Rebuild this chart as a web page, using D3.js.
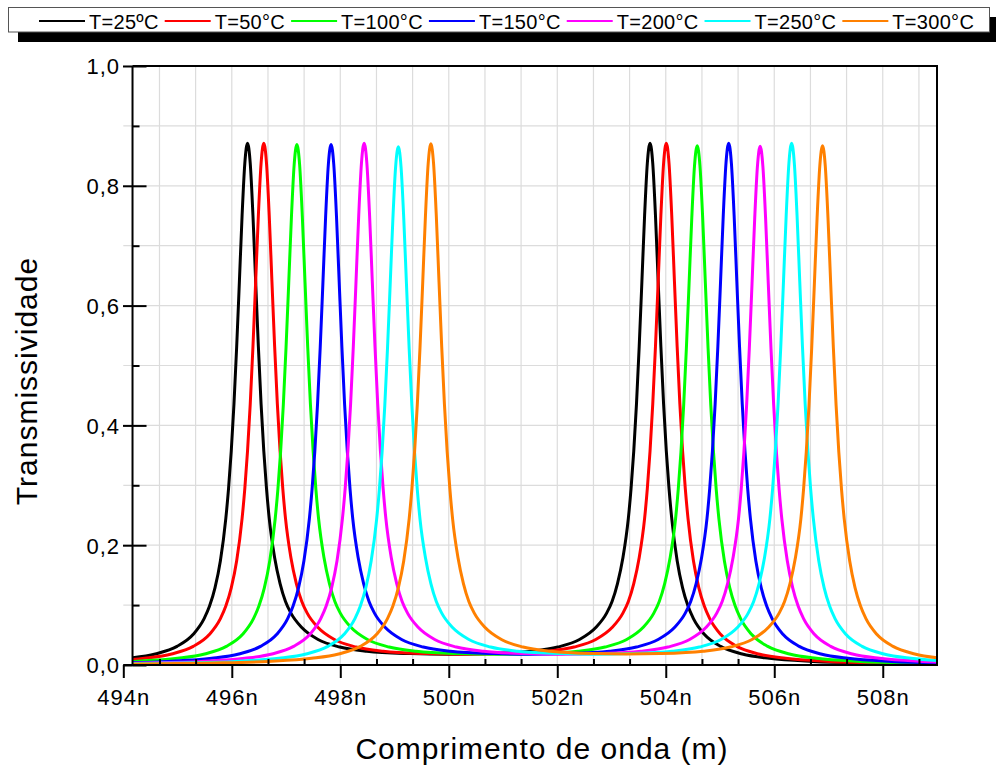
<!DOCTYPE html>
<html><head><meta charset="utf-8">
<script src="https://cdn.jsdelivr.net/npm/d3@7"></script>
<style>
body{margin:0;background:#fff}
svg{display:block}
text{font-family:Arial,"Liberation Sans",sans-serif;fill:#000}
</style>
</head><body><svg id="c" width="996" height="774"></svg>
<script>
// ---------- data ----------
const seriesNames  = ["T=25ºC","T=50°C","T=100°C","T=150°C","T=200°C","T=250°C","T=300°C"];
const seriesColors = ["#000000","#ff0000","#00ff00","#0000ff","#ff00ff","#00ffff","#ff8000"];
// peak wavelengths (nm) of the two transmission orders
const peakLeft    = [496.29,496.59,497.20,497.83,498.44,499.07,499.67];
const peakRight   = [503.71,504.01,504.58,505.16,505.74,506.32,506.89];
const heightLeft  = [0.871,0.871,0.869,0.869,0.871,0.865,0.870];
const heightRight = [0.871,0.871,0.867,0.871,0.866,0.871,0.867];
// peak core shape read from the black peak (relative to peak height)
const coreOffsets = [0,0.05,0.1,0.15,0.2,0.25,0.3,0.35,0.4];
const coreShape   = [1,0.9615,0.862,0.735,0.610,0.50,0.41,0.338,0.281];
// tail facing the other order (between the two peaks), transmissivity
const innerOffsets = [0.5,0.6,0.7,0.8,1.0,1.3,1.7,2.2,3.0];
const innerValues  = [0.179,0.136,0.106,0.0866,0.0625,0.0426,0.030,0.023,0.019];
// tail facing the plot edges, transmissivity
const outerOffsets = [0.5,0.6,0.7,0.8,1.0,1.3,1.7,2.2,3.0,4.0,5.0,6.0];
const outerValues  = [0.174,0.1288,0.0983,0.0774,0.0512,0.0311,0.0184,0.0111,0.0060,0.0034,0.0022,0.0015];
// value half way between the two orders
const midValues = [0.0178,0.0178,0.0179,0.0180,0.0180,0.0181,0.0182];

const xMajorTicks = [494,496,498,500,502,504,506,508];
const xMinorTicks = [494.667,495.333,496.667,497.333,498.667,499.333,500.667,501.333,502.667,503.333,504.667,505.333,506.667,507.333,508.667];
const yMajorTicks = [0,0.2,0.4,0.6,0.8,1.0];
const yMinorTicks = [0.1,0.3,0.5,0.7,0.9];
const xDomain = [494,509];
const dataStart = 494.17;
const xTitle = "Comprimento de onda (m)";
const yTitle = "Transmissividade";

// ---------- build series ----------
const series = seriesNames.map((name,i)=>{
  const pts = [];
  const pL = peakLeft[i], pR = peakRight[i];
  outerOffsets.forEach((o,k)=>pts.push([pL-o, outerValues[k]]));
  coreOffsets.forEach((o,k)=>{ pts.push([pL-o, heightLeft[i]*coreShape[k]]); if(o>0) pts.push([pL+o, heightLeft[i]*coreShape[k]]); });
  innerOffsets.forEach((o,k)=>pts.push([pL+o, innerValues[k]]));
  pts.push([(pL+pR)/2, midValues[i]]);
  innerOffsets.forEach((o,k)=>pts.push([pR-o, innerValues[k]]));
  coreOffsets.forEach((o,k)=>{ pts.push([pR-o, heightRight[i]*coreShape[k]]); if(o>0) pts.push([pR+o, heightRight[i]*coreShape[k]]); });
  outerOffsets.forEach((o,k)=>pts.push([pR+o, outerValues[k]]));
  pts.sort((a,b)=>a[0]-b[0]);
  return {name, color:seriesColors[i], pts};
});

// ---------- drawing ----------
const svg = d3.select("#c");
svg.append("rect").attr("width",996).attr("height",774).attr("fill","#fff");

const x = d3.scaleLinear().domain(xDomain).range([123.3,937]);
const y = d3.scaleLinear().domain([0,1]).range([665,66]);
const x0 = x(dataStart);

// grid
const grid = svg.append("g").attr("stroke","#dcdcdc").attr("stroke-width",1.2);
xMajorTicks.concat(xMinorTicks).filter(v=>v>494).forEach(v=>{
  grid.append("line").attr("x1",x(v)).attr("x2",x(v)).attr("y1",y(1)).attr("y2",y(0));
});
yMajorTicks.concat(yMinorTicks).filter(v=>v>0).forEach(v=>{
  grid.append("line").attr("x1",x(494)).attr("x2",x(509)).attr("y1",y(v)).attr("y2",y(v));
});

// curves
svg.append("clipPath").attr("id","plotclip").append("rect")
  .attr("x",x0).attr("y",y(1)).attr("width",x(509)-x0).attr("height",y(0)-y(1));
const line = d3.line().x(d=>x(d[0])).y(d=>y(d[1])).curve(d3.curveMonotoneX);
const gC = svg.append("g").attr("clip-path","url(#plotclip)");
series.forEach(s=>{
  gC.append("path").attr("d",line(s.pts)).attr("fill","none")
    .attr("stroke",s.color).attr("stroke-width",3).attr("stroke-linejoin","round");
});

// x axis
const fmtX = d=>d+"n";
const gx = svg.append("g").attr("transform",`translate(0,${y(0)})`)
  .call(d3.axisBottom(x).tickValues(xMajorTicks).tickSize(13).tickSizeOuter(0).tickFormat(fmtX));
gx.select(".domain").remove();
gx.selectAll(".tick line").attr("stroke","#000").attr("stroke-width",2);
gx.selectAll("text").attr("y",40).attr("dy",0).style("font-size","22px").style("letter-spacing","1px");
const gxm = svg.append("g").attr("transform",`translate(0,${y(0)})`)
  .call(d3.axisTop(x).tickValues(xMinorTicks).tickSize(6).tickSizeOuter(0).tickFormat(""));
gxm.select(".domain").remove();
gxm.selectAll(".tick line").attr("stroke","#000").attr("stroke-width",2);

// y axis
const fmtY = d=>d3.format(".1f")(d).replace(".",",");
const gy = svg.append("g").attr("transform",`translate(${x0},0)`)
  .call(d3.axisLeft(y).tickValues(yMajorTicks).tickSize(9.5).tickSizeOuter(0).tickPadding(3).tickFormat(fmtY));
gy.select(".domain").remove();
gy.selectAll(".tick line").attr("stroke","#000").attr("stroke-width",2);
gy.selectAll("text").style("font-size","22px").style("letter-spacing","1px").attr("dy","0.36em");
const gyi = svg.append("g").attr("transform",`translate(${x0},0)`)
  .call(d3.axisRight(y).tickValues(yMajorTicks).tickSize(14).tickSizeOuter(0).tickFormat(""));
gyi.select(".domain").remove();
gyi.selectAll(".tick line").attr("stroke","#000").attr("stroke-width",2);
const gym = svg.append("g").attr("transform",`translate(${x0},0)`)
  .call(d3.axisRight(y).tickValues(yMinorTicks).tickSize(7).tickSizeOuter(0).tickFormat(""));
gym.select(".domain").remove();
gym.selectAll(".tick line").attr("stroke","#000").attr("stroke-width",2);

// frame
const frame = svg.append("g").attr("stroke","#000").attr("stroke-width",2).attr("fill","none");
frame.append("line").attr("x1",x(494)).attr("x2",x(509)+1).attr("y1",y(0)).attr("y2",y(0));
frame.append("line").attr("x1",x0).attr("x2",x(509)+1).attr("y1",y(1)).attr("y2",y(1));
frame.append("line").attr("x1",x0).attr("x2",x0).attr("y1",y(1)).attr("y2",y(0));
frame.append("line").attr("x1",x(509)).attr("x2",x(509)).attr("y1",y(1)).attr("y2",y(0));

// titles
svg.append("text").attr("x",542).attr("y",759).attr("text-anchor","middle")
  .style("font-size","30px").style("letter-spacing","1px").text(xTitle);
svg.append("text").attr("transform","translate(37,381) rotate(-90)").attr("text-anchor","middle")
  .style("font-size","30px").style("letter-spacing","1px").text(yTitle);

// legend
const lg = svg.append("g");
lg.append("rect").attr("x",18).attr("y",17).attr("width",982).attr("height",25).attr("fill","#000");
lg.append("rect").attr("x",8.5).attr("y",7.5).attr("width",981).attr("height",24.5).attr("fill","#fff").attr("stroke","#555").attr("stroke-width",1);
let lx = 39;
series.forEach(s=>{
  lg.append("line").attr("x1",lx).attr("x2",lx+46).attr("y1",21).attr("y2",21).attr("stroke",s.color).attr("stroke-width",2);
  const t = lg.append("text").attr("x",lx+50).attr("y",28.5).style("font-size","20px").style("letter-spacing","0.3px").text(s.name);
  lx += 50 + t.node().getComputedTextLength() + 6;
});
</script>
</body></html>
